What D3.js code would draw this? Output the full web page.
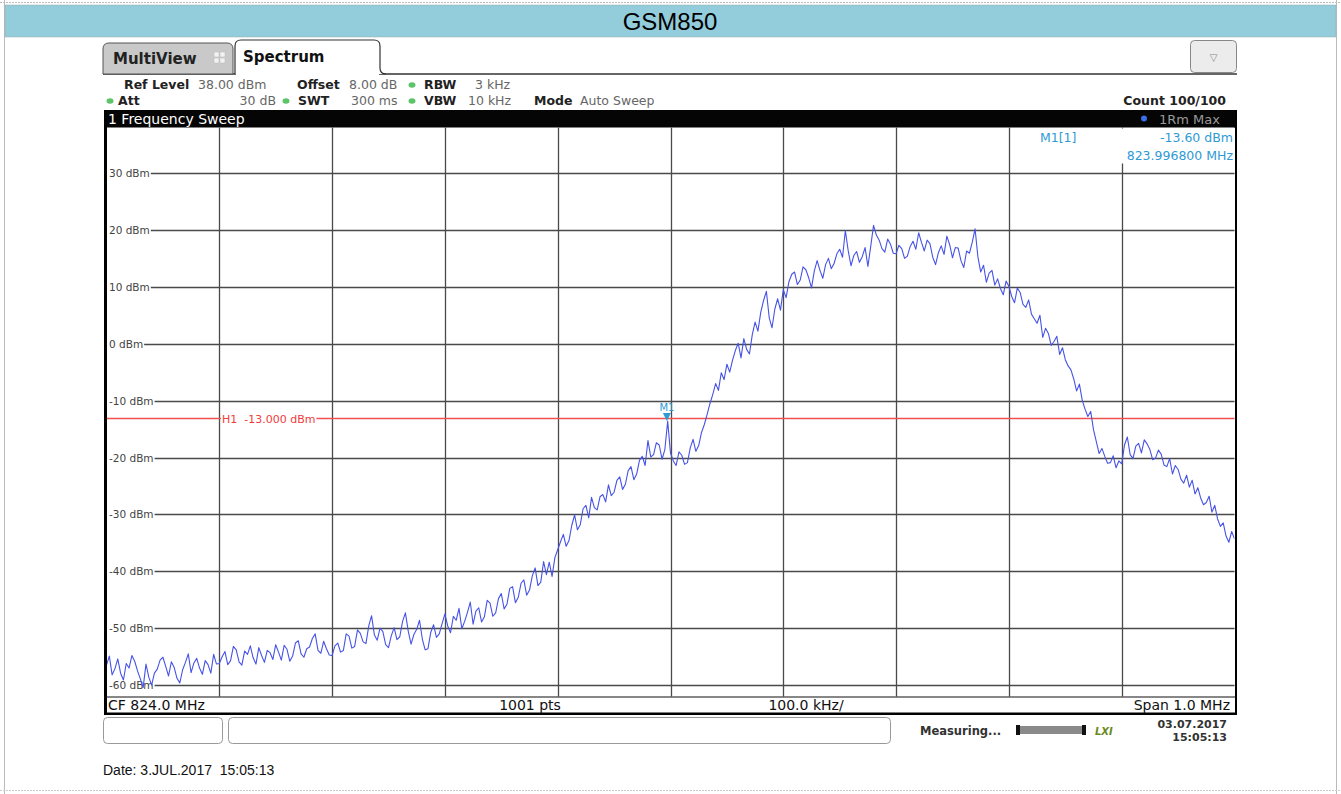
<!DOCTYPE html>
<html><head><meta charset="utf-8">
<script src="https://cdn.jsdelivr.net/npm/d3@7"></script>
<style>
html,body{margin:0;padding:0;background:#fff;}
svg{display:block;}
text{white-space:pre;}
</style></head>
<body>
<svg id="chart" width="1341" height="794"></svg>
<script>
// ---------- data ----------
const title = "GSM850";
const freqStart = 823.5;      // MHz
const freqStep = 0.0025;      // MHz between read points
const levels = [
 -56.5,-54.9,-58.2,-57.1,-55.4,-57.9,-59.1,-56.2,-57.0,-54.8,-55.8,-57.5,-58.9,-60.4,-56.3,-58.6,-60.0,-57.9,-57.2,-55.6,
 -55.1,-56.7,-58.4,-55.9,-56.9,-58.8,-59.6,-57.3,-56.0,-54.5,-57.8,-56.1,-55.3,-57.0,-58.1,-55.7,-56.4,-57.9,-54.6,-56.3,
 -56.2,-55.0,-54.1,-56.4,-55.7,-53.2,-53.8,-55.9,-56.5,-54.0,-54.6,-53.1,-55.2,-56.3,-53.4,-54.8,-56.0,-53.9,-54.3,-55.5,
 -52.9,-54.2,-55.6,-53.0,-53.7,-55.8,-54.9,-52.6,-52.2,-54.5,-55.1,-53.6,-53.3,-51.8,-51.0,-53.9,-54.4,-52.3,-53.6,-54.7,
 -54.8,-53.1,-52.6,-54.2,-53.9,-51.0,-51.4,-53.5,-53.2,-50.3,-50.9,-52.4,-52.7,-49.6,-47.8,-51.2,-52.1,-50.0,-50.6,-52.9,
 -53.4,-51.3,-49.9,-52.0,-51.5,-48.8,-47.3,-50.5,-52.8,-51.1,-50.2,-48.6,-51.9,-53.8,-53.6,-50.7,-49.4,-51.6,-51.0,-49.2,
 -47.5,-49.6,-50.8,-47.9,-48.6,-46.5,-50.1,-48.8,-47.2,-45.4,-49.3,-47.0,-46.4,-48.9,-48.0,-45.1,-45.6,-47.9,-47.3,-44.8,
 -43.9,-46.6,-45.8,-43.0,-42.7,-45.5,-44.6,-42.1,-41.5,-44.2,-43.3,-40.8,-39.4,-42.5,-41.9,-38.3,-40.6,-38.4,-40.9,-37.6,
 -36.2,-34.8,-33.5,-35.6,-34.6,-31.9,-30.1,-32.7,-31.8,-29.0,-28.4,-30.6,-27.0,-28.8,-29.2,-26.9,-26.5,-27.8,-24.8,-26.7,
 -26.1,-24.0,-23.4,-25.6,-24.7,-22.3,-21.6,-23.9,-22.9,-20.5,-19.8,-21.4,-17.0,-19.9,-19.5,-17.4,-17.8,-20.3,-18.6,-13.6,
 -19.2,-20.6,-21.4,-19.0,-19.6,-21.2,-20.9,-18.3,-16.8,-18.9,-17.9,-15.6,-14.2,-12.4,-10.5,-8.9,-7.0,-8.2,-5.1,-6.3,
 -3.6,-5.0,-2.9,-1.2,0.1,-2.5,0.9,-1.0,-1.8,1.6,3.8,2.2,5.5,7.6,9.2,4.6,2.8,6.1,7.9,5.9,
 9.5,8.1,10.9,12.2,12.6,10.4,11.2,13.5,13.0,11.6,9.8,12.8,14.6,12.9,11.5,13.9,15.0,13.2,14.1,15.8,
 16.6,15.2,19.9,16.4,13.7,15.5,16.2,14.3,15.3,16.9,13.6,17.1,20.8,19.1,18.2,16.7,16.1,18.4,17.5,15.9,
 15.8,17.3,16.7,15.0,15.4,17.1,18.0,16.6,19.5,17.8,16.3,18.2,17.6,15.2,13.9,16.0,17.2,15.7,18.9,17.4,
 15.1,16.9,16.8,14.6,13.4,16.3,15.9,17.8,20.2,15.3,12.6,13.8,10.8,12.4,12.9,10.3,11.4,9.7,8.6,11.0,
 10.1,8.3,7.2,9.8,9.0,6.9,6.4,7.7,5.2,4.4,3.6,5.0,1.1,2.7,1.8,-0.3,0.4,1.3,-1.9,-0.7,
 -2.8,-3.9,-4.6,-6.2,-8.3,-7.1,-9.9,-11.5,-12.8,-11.9,-15.1,-17.2,-19.3,-18.4,-19.8,-21.0,-20.9,-19.7,-21.8,-20.6,
 -21.1,-17.8,-16.4,-19.5,-20.2,-18.0,-17.5,-19.2,-16.9,-17.6,-18.6,-20.4,-20.1,-18.7,-19.4,-21.3,-21.6,-20.2,-22.9,-21.4,
 -22.1,-23.8,-24.5,-23.1,-25.2,-24.0,-26.4,-25.3,-27.1,-28.3,-27.9,-26.8,-29.6,-28.4,-30.8,-32.1,-31.5,-33.8,-34.9,-33.0,-34.3
];
const yTicks = [30,20,10,0,-10,-20,-30,-40,-50,-60];
const yTickLabels = ["30 dBm","20 dBm","10 dBm","0 dBm","-10 dBm","-20 dBm","-30 dBm","-40 dBm","-50 dBm","-60 dBm"];
const xGrid = [823.6,823.7,823.8,823.9,824.0,824.1,824.2,824.3,824.4];
const refLevel = 38, bottomLevel = -62;
const spanStart = 823.5, spanEnd = 824.5;
const h1Level = -13;
const h1Label = "H1  -13.000 dBm";
const markerFreq = 823.9968, markerLevel = -13.6;
const markerLines = ["M1[1]","-13.60 dBm","823.996800 MHz"];
const bottomTexts = ["CF 824.0 MHz","1001 pts","100.0 kHz/","Span 1.0 MHz"];
const dateText = "Date: 3.JUL.2017  15:05:13";

// ---------- layout ----------
const svg = d3.select("#chart");
const L = 106.5, R = 1234.5, T = 127.5, B = 696.5;
const x = d3.scaleLinear().domain([spanStart, spanEnd]).range([L, R]);
const y = d3.scaleLinear().domain([bottomLevel, refLevel]).range([B, T]);
const UI = "'DejaVu Sans', 'Noto Sans', sans-serif";
const BLUE = "#2f9ad6";

// page frame
svg.append("line").attr("x1",4.5).attr("x2",4.5).attr("y1",0).attr("y2",794).attr("stroke","#bbb");
svg.append("line").attr("x1",1336.5).attr("x2",1336.5).attr("y1",0).attr("y2",794).attr("stroke","#bbb");
svg.append("line").attr("x1",0).attr("x2",1341).attr("y1",2.5).attr("y2",2.5).attr("stroke","#bbb").attr("stroke-dasharray","2,1");
svg.append("line").attr("x1",0).attr("x2",1341).attr("y1",790.5).attr("y2",790.5).attr("stroke","#ccc").attr("stroke-dasharray","2,1");

// header
svg.append("rect").attr("x",5).attr("y",5).attr("width",1331).attr("height",32).attr("fill","#93cddc").attr("stroke","#9aa").attr("stroke-width",0.5);
svg.append("text").attr("x",670).attr("y",29.5).attr("text-anchor","middle")
  .attr("font-family","'Liberation Sans', Arial, sans-serif").attr("font-size",24).attr("fill","#000").text(title);

// tabs
svg.append("line").attr("x1",103).attr("x2",1237).attr("y1",74).attr("y2",74).attr("stroke","#333").attr("stroke-width",1.5);
svg.append("path").attr("d","M103,74 L103,49 Q103,43 109,43 L227,43 Q233,43 233,49 L233,74 Z")
  .attr("fill","#c9c9c9").attr("stroke","#555").attr("stroke-width",1);
svg.append("text").attr("x",113).attr("y",64).attr("font-family",UI).attr("font-weight","bold").attr("font-size",15).attr("fill","#222").text("MultiView");
const gi = svg.append("g").attr("transform","translate(214,52)");
[[0,0],[6,0],[0,6],[6,6]].forEach(p=>gi.append("rect").attr("x",p[0]).attr("y",p[1]).attr("width",5).attr("height",5).attr("rx",1).attr("fill","#f2f2f2").attr("stroke","#bbb").attr("stroke-width",0.5));
svg.append("path").attr("d","M235,74 L235,46 Q235,40 241,40 L374,40 Q380,40 380,46 L380,68 Q380,74 386,74")
  .attr("fill","#fff").attr("stroke","#333").attr("stroke-width",1.2);
svg.append("rect").attr("x",236).attr("y",70).attr("width",143).attr("height",5).attr("fill","#fff");
svg.append("text").attr("x",243).attr("y",62).attr("font-family",UI).attr("font-weight","bold").attr("font-size",15).attr("fill","#111").text("Spectrum");
svg.append("rect").attr("x",1190.5).attr("y",40.5).attr("width",46).attr("height",32).attr("rx",4)
  .attr("fill","#ececec").attr("stroke","#888");
svg.append("text").attr("x",1213.5).attr("y",61).attr("text-anchor","middle").attr("font-family",UI).attr("font-size",10).attr("fill","#888").text("▽");

// info lines
function info(xp, yp, txt, bold, col){
  svg.append("text").attr("x",xp).attr("y",yp).attr("font-family",UI).attr("font-size",12.5)
    .attr("font-weight",bold?"bold":"normal").attr("fill",col|| (bold?"#222":"#666")).text(txt);
}
function dot(xp, yp){
  svg.append("ellipse").attr("cx",xp).attr("cy",yp).attr("rx",3.5).attr("ry",2.8).attr("fill","#5ec46a");
}
info(124,89,"Ref Level",true); info(198,89,"38.00 dBm",false);
info(297,89,"Offset",true); info(349,89,"8.00 dB",false); dot(412,85); info(424,89,"RBW",true); info(475,89,"3 kHz",false);
dot(110,101); info(118,105,"Att",true);
svg.append("text").attr("x",276).attr("y",105).attr("text-anchor","end").attr("font-family",UI).attr("font-size",12.5).attr("fill","#666").text("30 dB");
dot(286,101); info(298,105,"SWT",true); info(351,105,"300 ms",false); dot(412,101); info(424,105,"VBW",true); info(468,105,"10 kHz",false);
info(534,105,"Mode",true); info(580,105,"Auto Sweep",false);
svg.append("text").attr("x",1226).attr("y",105).attr("text-anchor","end").attr("font-family",UI).attr("font-size",12.5).attr("font-weight","bold").attr("fill","#222").text("Count 100/100");

// black title bar
svg.append("rect").attr("x",104).attr("y",110).attr("width",1133).attr("height",18).attr("fill","#050505");
svg.append("text").attr("x",108).attr("y",124).attr("font-family",UI).attr("font-size",14).attr("fill","#fff").text("1 Frequency Sweep");
svg.append("circle").attr("cx",1144).attr("cy",118.5).attr("r",3).attr("fill","#3a6de8");
svg.append("text").attr("x",1220).attr("y",123.5).attr("text-anchor","end").attr("font-family",UI).attr("font-size",13).attr("fill","#9a9a9a").text("1Rm Max");

// plot background
svg.append("rect").attr("x",L).attr("y",T).attr("width",R-L).attr("height",B-T).attr("fill","#fff");

// vertical grid
svg.append("g").selectAll("line").data(xGrid).join("line")
  .attr("x1",d=>Math.round(x(d))+0.5).attr("x2",d=>Math.round(x(d))+0.5)
  .attr("y1",T).attr("y2",B).attr("stroke","#4a4a4a").attr("stroke-width",1.3);

// horizontal grid with labels
const ygl = svg.append("g");
const ygt = svg.append("g");
yTicks.forEach((v,i)=>{
  const yy = Math.round(y(v))+0.5;
  const t = ygt.append("text").attr("x",109).attr("y",yy+3.5).attr("font-family",UI).attr("font-size",10.5)
    .attr("fill","#444").text(yTickLabels[i]);
  const w = t.node().getComputedTextLength();
  ygl.append("line").attr("x1",109+w+1).attr("x2",R).attr("y1",yy).attr("y2",yy)
    .attr("stroke","#4a4a4a").attr("stroke-width",1.3);
});

// marker text box (covers grid)
svg.append("rect").attr("x",1030).attr("y",T+1).attr("width",R-1030-1).attr("height",35).attr("fill","#fff");
svg.append("text").attr("x",1040).attr("y",142).attr("font-family",UI).attr("font-size",12.5).attr("fill",BLUE).text(markerLines[0]);
svg.append("text").attr("x",1233).attr("y",142).attr("text-anchor","end").attr("font-family",UI).attr("font-size",12.5).attr("fill",BLUE).text(markerLines[1]);
svg.append("text").attr("x",1233).attr("y",160).attr("text-anchor","end").attr("font-family",UI).attr("font-size",12.5).attr("fill",BLUE).text(markerLines[2]);

// H1 line
const h1y = Math.round(y(h1Level))+0.5;
const h1g = svg.append("g");
h1g.append("line").attr("x1",L).attr("x2",R).attr("y1",h1y).attr("y2",h1y).attr("stroke","#f05050").attr("stroke-width",1.3);
const h1bg = h1g.append("rect");
const h1t = h1g.append("text").attr("x",222).attr("y",h1y+4).attr("font-family",UI).attr("font-size",11).attr("fill","#f03c3c").text(h1Label);
const h1w = h1t.node().getComputedTextLength();
h1bg.attr("x",221).attr("y",h1y-5).attr("width",h1w+2).attr("height",10).attr("fill","#fff");

// trace
const pts = levels.map((v,i)=>[freqStart + i*freqStep, v]);
svg.append("defs").append("clipPath").attr("id","pc").append("rect").attr("x",L).attr("y",T).attr("width",R-L).attr("height",B-T);
svg.append("path").datum(pts).attr("clip-path","url(#pc)")
  .attr("d", d3.line().x(d=>x(d[0])).y(d=>y(d[1])))
  .attr("fill","none").attr("stroke","#4653e6").attr("stroke-width",1.1).attr("stroke-linejoin","round");

// marker
const mx = x(markerFreq), my = y(markerLevel);
svg.append("path").attr("d",`M${mx-4},${my-8} L${mx+4},${my-8} L${mx},${my} Z`).attr("fill",BLUE);
svg.append("text").attr("x",mx).attr("y",my-10).attr("text-anchor","middle").attr("font-family",UI).attr("font-size",10).attr("fill",BLUE).text("M1");

// frame
svg.append("rect").attr("x",104).attr("y",110).attr("width",3).attr("height",605).attr("fill","#000");
svg.append("rect").attr("x",1235).attr("y",110).attr("width",2).attr("height",605).attr("fill","#000");
svg.append("line").attr("x1",104).attr("x2",1237).attr("y1",697).attr("y2",697).attr("stroke","#111").attr("stroke-width",1.2);
svg.append("rect").attr("x",104).attr("y",712.5).attr("width",1133).attr("height",2.5).attr("fill","#000");

// bottom bar
const bt = svg.append("g").attr("font-family",UI).attr("font-size",14).attr("fill","#111");
bt.append("text").attr("x",108).attr("y",710).text(bottomTexts[0]);
bt.append("text").attr("x",530).attr("y",710).attr("text-anchor","middle").text(bottomTexts[1]);
bt.append("text").attr("x",806).attr("y",710).attr("text-anchor","middle").text(bottomTexts[2]);
bt.append("text").attr("x",1230).attr("y",710).attr("text-anchor","end").text(bottomTexts[3]);

// status bar
svg.append("rect").attr("x",103.5).attr("y",717.5).attr("width",119).attr("height",26).attr("rx",4).attr("fill","#fff").attr("stroke","#999");
svg.append("rect").attr("x",228.5).attr("y",717.5).attr("width",662).attr("height",26).attr("rx",4).attr("fill","#fff").attr("stroke","#999");
svg.append("text").attr("x",920).attr("y",735).attr("font-family",UI).attr("font-size",11.5).attr("font-weight","bold").attr("fill","#333").text("Measuring...");
svg.append("rect").attr("x",1016).attr("y",726).attr("width",70).attr("height",8).attr("rx",2).attr("fill","#8a8a8a");
svg.append("rect").attr("x",1016).attr("y",725).attr("width",4).attr("height",10).attr("fill","#111");
svg.append("rect").attr("x",1082).attr("y",725).attr("width",4).attr("height",10).attr("fill","#111");
svg.append("text").attr("x",1095).attr("y",735).attr("font-family",UI).attr("font-size",10).attr("font-weight","bold").attr("font-style","italic").attr("fill","#6a8a20").text("LXI");
svg.append("text").attr("x",1227).attr("y",728).attr("text-anchor","end").attr("font-family",UI).attr("font-size",11).attr("font-weight","bold").attr("fill","#333").text("03.07.2017");
svg.append("text").attr("x",1227).attr("y",741).attr("text-anchor","end").attr("font-family",UI).attr("font-size",11).attr("font-weight","bold").attr("fill","#333").text("15:05:13");

// date
svg.append("text").attr("x",103).attr("y",775).attr("font-family","'Liberation Sans', Arial, sans-serif").attr("font-size",14).attr("fill","#111").text(dateText);
</script>
</body></html>
